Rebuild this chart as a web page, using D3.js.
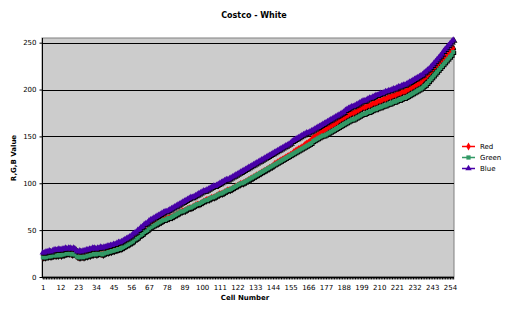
<!DOCTYPE html>
<html>
<head>
<meta charset="utf-8">
<script src="https://cdn.jsdelivr.net/npm/d3@7"></script>
<style>
  body { margin: 0; background: #fff; }
  text { font-family: "DejaVu Sans", sans-serif; fill: #000; }
</style>
</head>
<body>
<div id="chart"></div>
<script>
// Cell numbers 1..256
var cells = d3.range(1, 257);

var xTickLabels = [1, 12, 23, 34, 45, 56, 67, 78, 89, 100, 111, 122, 133, 144, 155, 166,
  177, 188, 199, 210, 221, 232, 243, 254];
var yTicks = [0, 50, 100, 150, 200, 250];

var redValues = [
  21, 21, 22, 22, 22, 22, 23, 23, 23, 23,
  24, 23, 24, 24, 25, 25, 25, 25, 24, 25,
  24, 22, 21, 21, 22, 21, 22, 22, 23, 23,
  24, 24, 25, 24, 25, 25, 25, 24, 25, 26,
  26, 27, 27, 28, 28, 29, 29, 30, 30, 31,
  32, 33, 34, 35, 36, 37, 38, 40, 41, 42,
  44, 45, 46, 48, 49, 51, 52, 53, 55, 56,
  57, 57, 58, 59, 60, 61, 62, 63, 63, 64,
  64, 65, 66, 67, 68, 69, 70, 71, 71, 72,
  73, 74, 74, 75, 76, 77, 78, 78, 79, 80,
  81, 82, 83, 83, 84, 85, 85, 86, 87, 88,
  89, 89, 90, 91, 92, 93, 93, 94, 95, 96,
  97, 98, 99, 100, 100, 101, 102, 103, 104, 105,
  106, 107, 108, 109, 110, 111, 112, 113, 114, 115,
  116, 117, 118, 119, 121, 122, 123, 124, 125, 126,
  127, 128, 129, 130, 131, 132, 134, 135, 136, 137,
  138, 139, 140, 142, 143, 144, 145, 147, 149, 150,
  151, 152, 154, 155, 156, 156, 158, 159, 160, 161,
  162, 163, 164, 165, 167, 168, 169, 170, 171, 172,
  173, 174, 175, 175, 176, 177, 178, 179, 180, 181,
  181, 182, 183, 183, 184, 185, 186, 186, 187, 188,
  188, 189, 190, 190, 191, 192, 192, 193, 194, 194,
  195, 196, 196, 197, 198, 198, 199, 200, 201, 202,
  203, 204, 205, 206, 207, 208, 210, 212, 213, 215,
  217, 219, 221, 223, 225, 226, 228, 230, 232, 233,
  235, 236, 238, 240, 242, 244
];

var greenValues = [
  21, 21, 21, 22, 22, 22, 23, 23, 23, 23,
  24, 23, 24, 24, 25, 25, 25, 25, 24, 25,
  24, 22, 21, 21, 22, 21, 22, 22, 23, 23,
  24, 24, 25, 24, 25, 25, 25, 24, 25, 26,
  26, 27, 27, 28, 28, 29, 29, 30, 30, 31,
  32, 33, 34, 35, 36, 37, 38, 40, 41, 42,
  44, 45, 46, 48, 49, 50, 52, 53, 54, 55,
  56, 57, 58, 59, 60, 61, 61, 62, 63, 63,
  64, 65, 66, 67, 68, 69, 70, 70, 71, 72,
  73, 74, 74, 75, 76, 77, 78, 78, 79, 80,
  81, 82, 82, 83, 84, 85, 85, 86, 87, 88,
  89, 89, 90, 91, 92, 93, 93, 94, 95, 96,
  97, 98, 99, 100, 100, 101, 102, 103, 104, 105,
  106, 107, 108, 109, 110, 111, 112, 113, 114, 115,
  116, 117, 118, 119, 120, 121, 122, 123, 124, 125,
  126, 127, 128, 129, 130, 131, 132, 133, 134, 135,
  136, 137, 138, 139, 140, 141, 142, 143, 145, 146,
  147, 148, 149, 150, 151, 151, 152, 153, 154, 155,
  156, 157, 158, 159, 160, 161, 162, 163, 164, 165,
  166, 167, 168, 168, 169, 170, 171, 172, 173, 174,
  174, 175, 176, 176, 177, 178, 179, 179, 180, 181,
  181, 182, 183, 183, 184, 185, 185, 186, 187, 187,
  188, 189, 189, 190, 191, 191, 192, 193, 194, 195,
  196, 197, 198, 199, 200, 201, 202, 204, 205, 207,
  209, 211, 213, 215, 217, 219, 221, 223, 225, 227,
  229, 231, 233, 235, 237, 240
];

var blueValues = [
  26, 26, 27, 27, 28, 27, 28, 29, 29, 29,
  30, 29, 30, 30, 31, 30, 31, 31, 30, 31,
  30, 28, 27, 28, 27, 28, 28, 29, 29, 30,
  30, 31, 31, 30, 31, 31, 32, 31, 32, 32,
  33, 33, 34, 34, 35, 35, 36, 37, 37, 38,
  39, 40, 41, 42, 43, 44, 46, 47, 48, 50,
  51, 53, 54, 56, 57, 58, 60, 61, 62, 63,
  64, 65, 66, 67, 68, 69, 70, 70, 71, 72,
  73, 74, 75, 76, 77, 78, 79, 80, 81, 82,
  83, 84, 85, 85, 86, 87, 88, 89, 90, 91,
  92, 92, 93, 94, 95, 96, 97, 97, 98, 99,
  100, 101, 102, 103, 104, 104, 105, 106, 107, 108,
  109, 110, 111, 112, 113, 114, 115, 116, 117, 118,
  119, 120, 121, 122, 123, 124, 125, 126, 127, 128,
  129, 130, 131, 132, 133, 134, 135, 136, 137, 138,
  139, 140, 141, 142, 143, 145, 146, 147, 148, 149,
  150, 151, 152, 153, 154, 154, 155, 156, 157, 158,
  159, 160, 161, 162, 163, 164, 165, 166, 167, 168,
  169, 170, 171, 172, 173, 174, 175, 176, 178, 179,
  180, 181, 182, 182, 183, 184, 185, 186, 187, 188,
  188, 189, 190, 191, 191, 192, 193, 194, 194, 195,
  196, 196, 197, 198, 198, 199, 199, 200, 201, 201,
  202, 203, 203, 204, 205, 205, 206, 207, 208, 209,
  210, 211, 212, 213, 214, 215, 216, 218, 219, 221,
  222, 224, 226, 228, 230, 232, 234, 236, 238, 241,
  243, 245, 247, 249, 251, 253
];

var seriesNames = ["Red", "Green", "Blue"];
var seriesColors = ["#ff0000", "#339966", "#4800a8"];
var seriesShapes = [d3.symbolDiamond, d3.symbolSquare, d3.symbolTriangle];
var markerSizes = [14, 16, 18];
var seriesValues = [redValues, greenValues, blueValues];

var W = 509, H = 313;
var plot = {left: 42, right: 454, top: 38, bottom: 277};

var svg = d3.select("#chart").append("svg")
    .attr("width", W)
    .attr("height", H);

var x = d3.scalePoint()
    .domain(cells)
    .range([plot.left, plot.right])
    .padding(0.5);

var y = d3.scaleLinear()
    .domain([0, 255])
    .range([plot.bottom, plot.top]);

// plot background
svg.append("rect")
    .attr("x", plot.left)
    .attr("y", plot.top)
    .attr("width", plot.right - plot.left)
    .attr("height", plot.bottom - plot.top)
    .style("fill", "#cccccc")
    .style("stroke", "#808080")
    .style("stroke-width", 1);

// gridlines
svg.append("g")
    .selectAll("line")
    .data(yTicks.slice(1))
    .enter().append("line")
    .attr("x1", plot.left)
    .attr("x2", plot.right)
    .attr("y1", function(d) { return Math.round(y(d)) + 0.5; })
    .attr("y2", function(d) { return Math.round(y(d)) + 0.5; })
    .style("stroke", "#000")
    .style("stroke-width", 1);

// y axis
var yAxis = d3.axisLeft(y).tickValues(yTicks).tickSize(3).tickPadding(3);
var gy = svg.append("g")
    .attr("transform", "translate(" + (plot.left + 0.5) + ",0)")
    .call(yAxis);
gy.select(".domain").remove();
gy.append("line")
    .attr("y1", plot.top).attr("y2", plot.bottom)
    .style("stroke", "#000");
gy.selectAll("text").style("font-size", "7px");

// x axis: minor tick at every cell, labels every 11th
var xAxisMinor = d3.axisBottom(x).tickValues(cells).tickSize(2).tickFormat("");
var gx = svg.append("g")
    .attr("transform", "translate(0," + (plot.bottom + 0.5) + ")")
    .call(xAxisMinor);
gx.select(".domain").remove();
gx.append("line")
    .attr("x1", plot.left).attr("x2", plot.right)
    .style("stroke", "#000")
    .style("stroke-width", 1.5);

var xAxisLabels = d3.axisBottom(x).tickValues(xTickLabels).tickSize(0).tickPadding(8);
var gxl = svg.append("g")
    .attr("transform", "translate(0," + plot.bottom + ")")
    .call(xAxisLabels);
gxl.select(".domain").remove();
gxl.selectAll("text").style("font-size", "7px");

// series: shadow first, then coloured line and markers
var line = d3.line()
    .x(function(d, i) { return x(cells[i]); })
    .y(function(d) { return y(d); });

seriesValues.forEach(function(vals, s) {
    var sym = d3.symbol().type(seriesShapes[s]).size(markerSizes[s]);
    [{dx: 1, dy: 1, c: "#000"}, {dx: 0, dy: 0, c: seriesColors[s]}].forEach(function(layer) {
        var g = svg.append("g")
            .attr("transform", "translate(" + layer.dx + "," + layer.dy + ")");
        g.append("path")
            .datum(vals)
            .attr("d", line)
            .style("fill", "none")
            .style("stroke", layer.c)
            .style("stroke-width", 2);
        g.selectAll("path.m")
            .data(vals)
            .enter().append("path")
            .attr("class", "m")
            .attr("transform", function(d, i) {
                return "translate(" + x(cells[i]) + "," + y(d) + ")";
            })
            .attr("d", sym)
            .style("fill", layer.c);
    });
});

// title and axis titles
svg.append("text")
    .attr("x", 254).attr("y", 18)
    .attr("text-anchor", "middle")
    .style("font-size", "8px").style("font-weight", "bold")
    .text("Costco - White");

svg.append("text")
    .attr("transform", "translate(16,158) rotate(-90)")
    .attr("text-anchor", "middle")
    .style("font-size", "7px").style("font-weight", "bold")
    .text("R,G,B Value");

svg.append("text")
    .attr("x", 245).attr("y", 300)
    .attr("text-anchor", "middle")
    .style("font-size", "7px").style("font-weight", "bold")
    .text("Cell Number");

// legend
var legend = svg.append("g");
seriesNames.forEach(function(name, s) {
    var ly = 146 + s * 11;
    legend.append("line")
        .attr("x1", 462).attr("x2", 475)
        .attr("y1", ly + 0.5).attr("y2", ly + 0.5)
        .style("stroke", seriesColors[s])
        .style("stroke-width", 1.5);
    legend.append("path")
        .attr("transform", "translate(468.5," + (ly + 0.5) + ")")
        .attr("d", d3.symbol().type(seriesShapes[s]).size(18))
        .style("fill", seriesColors[s]);
    legend.append("text")
        .attr("x", 480).attr("y", ly + 3)
        .style("font-size", "7px")
        .text(name);
});
</script>
</body>
</html>
